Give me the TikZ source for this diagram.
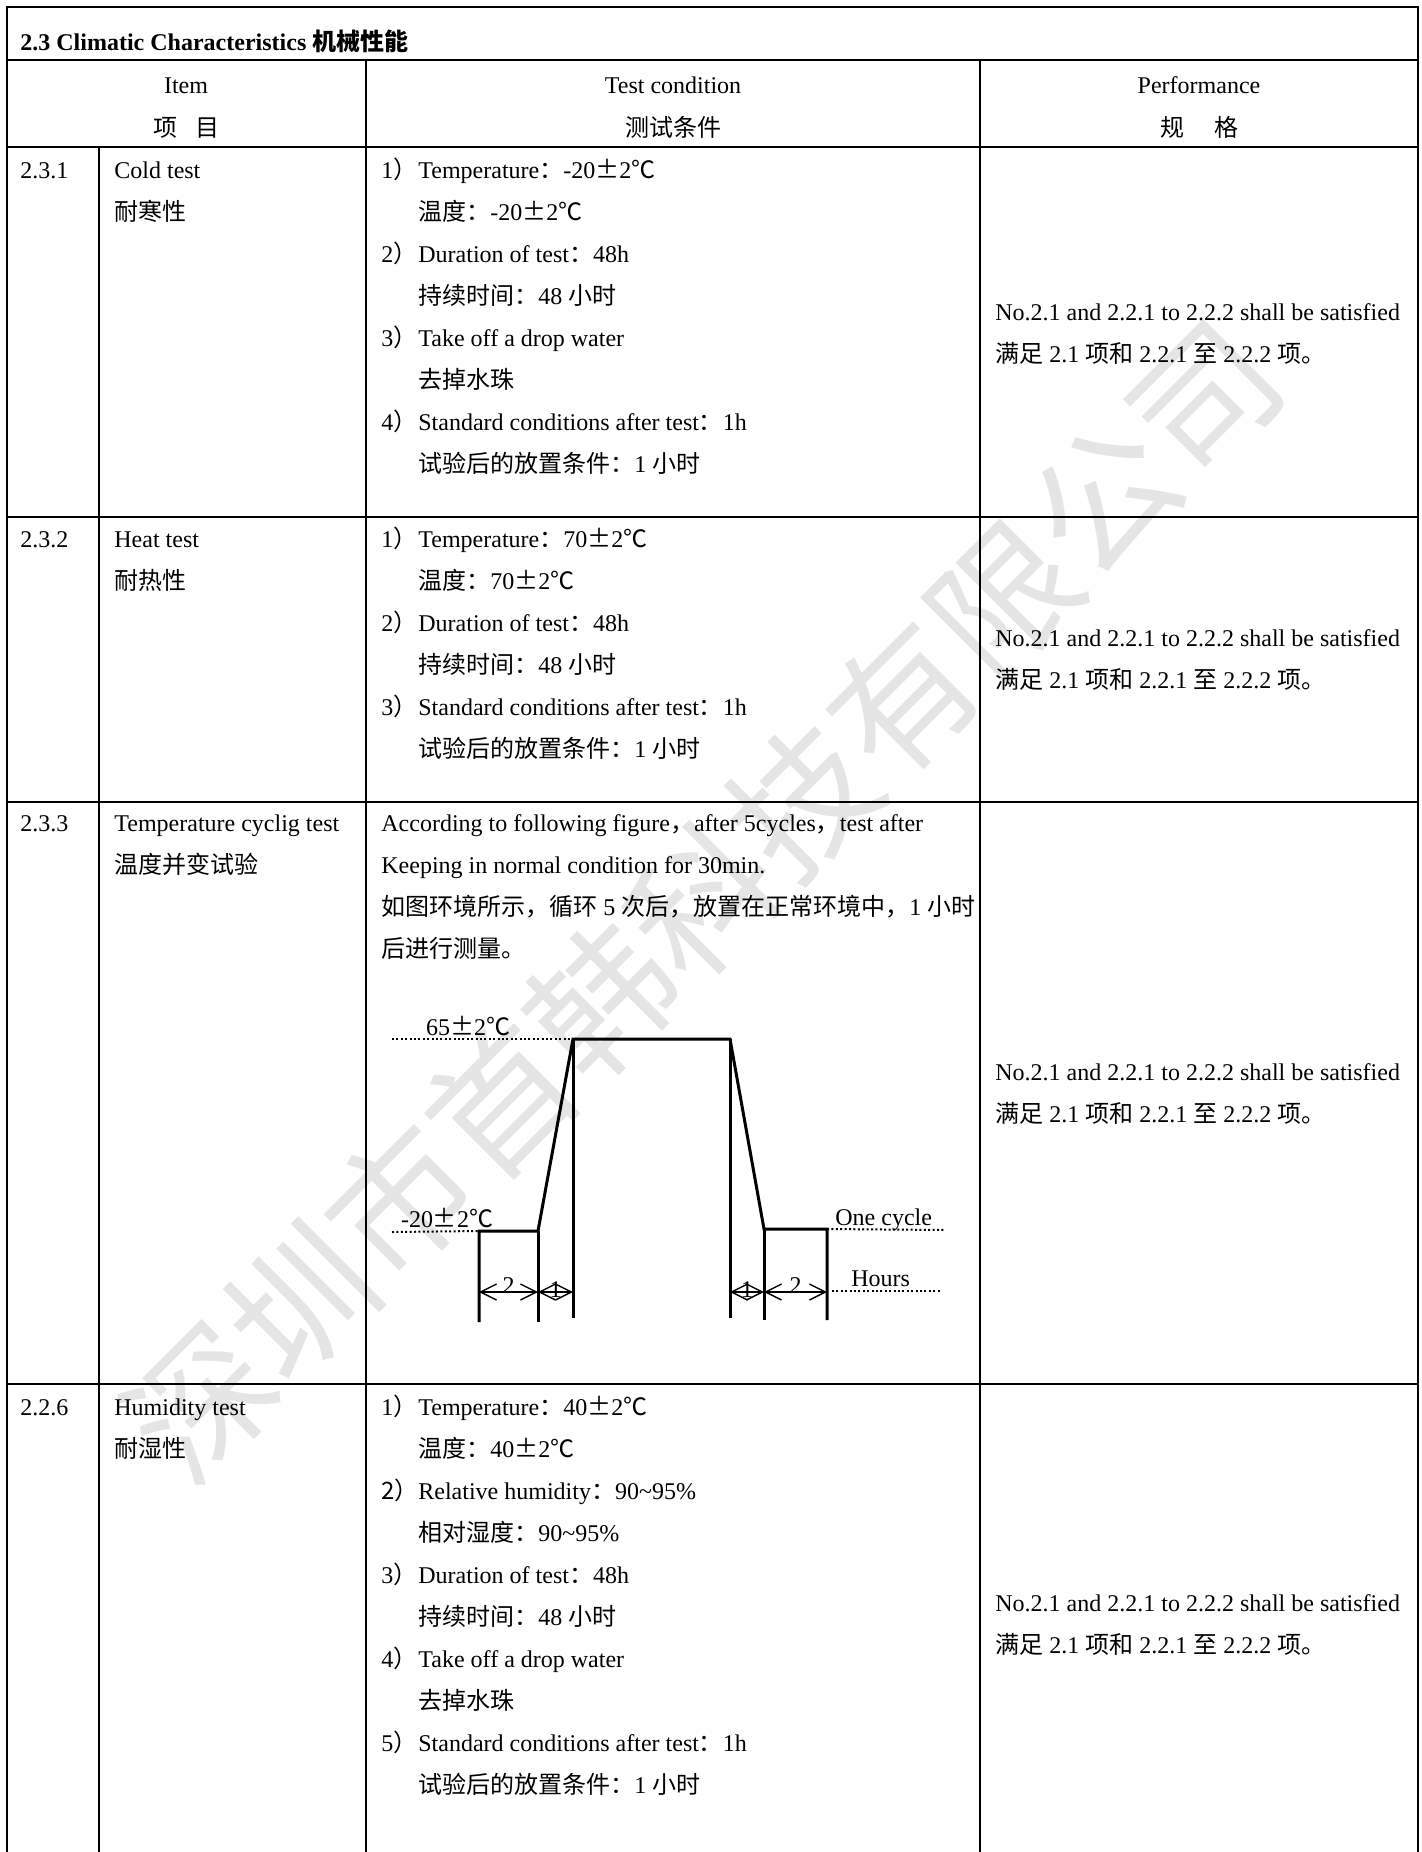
\documentclass[tikz,border=0pt]{standalone}
\usepackage{fontspec}
\setmainfont{Liberation Serif}
\newfontfamily\cjk{Noto Sans CJK SC}
\usetikzlibrary{arrows.meta}

\newcommand{\zh}[1]{{\cjk #1}}
\newcommand{\lnum}[1]{\makebox[18.5pt][l]{#1\zh{）}}}
\newcommand{\lpad}{\hspace*{18.5pt}}

\begin{document}
\begin{tikzpicture}[x=0.5pt, y=-0.5pt, font=\fontsize{12}{21}\selectfont]
	\tikzset{
		rule/.style={line width=0.7pt}, % table lines
		cell/.style={anchor=north west, inner sep=0pt, align=left, execute at begin node=\strut, yshift=14.7pt}, % placed at the first baseline
		head/.style={anchor=base, inner sep=0pt},
		curve/.style={line width=1.5pt}, % the temperature profile
		level/.style={line width=1pt, dash pattern=on 1pt off 1.2pt},
		span/.style={line width=0.7pt, {Straight Barb[length=8pt,width=8pt]}-{Straight Barb[length=8pt,width=8pt]}},
	}
	\useasboundingbox (0,0) rectangle (1421,1852);
	\fill[white] (0,0) rectangle (1421,1852);

	% watermark
	\node[text=black!10, rotate=45, font=\cjk\fontsize{71}{71}\selectfont] (mark) at (702,900) {深圳市首韩科技有限公司};

	% table grid
	\draw[rule] (7,1852) -- (7,7) -- (1418,7) -- (1418,1852);
	\draw[rule] (7,60) -- (1418,60);
	\draw[rule] (7,147) -- (1418,147);
	\draw[rule] (7,517) -- (1418,517);
	\draw[rule] (7,802) -- (1418,802);
	\draw[rule] (7,1384) -- (1418,1384);
	\draw[rule] (99,147) -- (99,1852);
	\draw[rule] (366,60) -- (366,1852);
	\draw[rule] (980,60) -- (980,1852);

	% title and header
	\node[cell, font=\fontsize{12}{21}\selectfont\bfseries] (title) at (20,50) {2.3 Climatic Characteristics \zh{机械性能}};
	\node[head] (item) at (186,93) {Item};
	\node[head] (itemzh) at (186,136) {\zh{项\hspace{9pt}目}};
	\node[head] (cond) at (673,93) {Test condition};
	\node[head] (condzh) at (673,136) {\zh{测试条件}};
	\node[head] (perf) at (1199,93) {Performance};
	\node[head] (perfzh) at (1199,136) {\zh{规\hspace{15pt}格}};

	% 2.3.1
	\node[cell] (no1) at (20,178) {2.3.1};
	\node[cell] (name1) at (114,178) {\strut Cold test\\\zh{耐寒性}};
	\node[cell] (cond1) at (381,178) {\strut\lnum{1}Temperature\zh{：}-20\zh{±}2\zh{℃}\\
		\lpad\zh{温度：}-20\zh{±}2\zh{℃}\\
		\lnum{2}Duration of test\zh{：}48h\\
		\lpad\zh{持续时间：}48 \zh{小时}\\
		\lnum{3}Take off a drop water\\
		\lpad\zh{去掉水珠}\\
		\lnum{4}Standard conditions after test\zh{：}1h\\
		\lpad\zh{试验后的放置条件：}1 \zh{小时}};
	\node[cell] (perf1) at (995,320) {\strut No.2.1 and 2.2.1 to 2.2.2 shall be satisfied\\
		\zh{满足} 2.1 \zh{项和} 2.2.1 \zh{至} 2.2.2 \zh{项。}};

	% 2.3.2
	\node[cell] (no2) at (20,547) {2.3.2};
	\node[cell] (name2) at (114,547) {\strut Heat test\\\zh{耐热性}};
	\node[cell] (cond2) at (381,547) {\strut\lnum{1}Temperature\zh{：}70\zh{±}2\zh{℃}\\
		\lpad\zh{温度：}70\zh{±}2\zh{℃}\\
		\lnum{2}Duration of test\zh{：}48h\\
		\lpad\zh{持续时间：}48 \zh{小时}\\
		\lnum{3}Standard conditions after test\zh{：}1h\\
		\lpad\zh{试验后的放置条件：}1 \zh{小时}};
	\node[cell] (perf2) at (995,646) {\strut No.2.1 and 2.2.1 to 2.2.2 shall be satisfied\\
		\zh{满足} 2.1 \zh{项和} 2.2.1 \zh{至} 2.2.2 \zh{项。}};

	% 2.3.3
	\node[cell] (no3) at (20,831) {2.3.3};
	\node[cell] (name3) at (114,831) {\strut Temperature cyclig test\\\zh{温度并变试验}};
	\node[cell] (cond3) at (381,831) {\strut According to following figure\zh{，}after 5cycles\zh{，}test after\\
		Keeping in normal condition for 30min.\\
		\zh{如图环境所示，循环} 5 \zh{次后，放置在正常环境中，}1 \zh{小时}\\
		\zh{后进行测量。}};
	\node[cell] (perf3) at (995,1080) {\strut No.2.1 and 2.2.1 to 2.2.2 shall be satisfied\\
		\zh{满足} 2.1 \zh{项和} 2.2.1 \zh{至} 2.2.2 \zh{项。}};

	% cycle figure
	\coordinate (lowA) at (479,1231);
	\coordinate (lowB) at (538,1231);
	\coordinate (topA) at (573,1039);
	\coordinate (topB) at (730,1039);
	\coordinate (lowC) at (764,1229);
	\coordinate (lowD) at (827,1229);
	\draw[curve] (479,1322) -- (lowA) -- (lowB) -- (topA) -- (topB) -- (lowC) -- (lowD) -- (827,1320);
	\draw[curve] (lowB) -- (538,1322);
	\draw[curve] (topA) -- (573,1318);
	\draw[curve] (topB) -- (730,1318);
	\draw[curve] (lowC) -- (764,1320);
	\draw[level] (392,1039) -- (topA);
	\draw[level] (392,1232) -- (lowA);
	\draw[level] (lowD) -- (945,1230);
	\draw[level] (832,1291) -- (941,1291);
	\node[head] (hot) at (468,1035) {65\zh{±}2\zh{℃}};
	\node[head] (cold) at (447,1227) {-20\zh{±}2\zh{℃}};
	\node[head, anchor=base west] (cycle) at (835,1225) {One cycle};
	\node[head, anchor=base west] (hours) at (851,1286) {Hours};
	\draw[span] (479,1292) -- node[head, above=-1pt] {2} (538,1292);
	\draw[span] (538,1292) -- node[head, above=-3pt] {1} (573,1292);
	\draw[span] (730,1292) -- node[head, above=-3pt] {1} (764,1292);
	\draw[span] (764,1292) -- node[head, above=-1pt] {2} (827,1292);

	% 2.2.6
	\node[cell] (no4) at (20,1415) {2.2.6};
	\node[cell] (name4) at (114,1415) {\strut Humidity test\\\zh{耐湿性}};
	\node[cell] (cond4) at (381,1415) {\strut\lnum{1}Temperature\zh{：}40\zh{±}2\zh{℃}\\
		\lpad\zh{温度：}40\zh{±}2\zh{℃}\\
		\lnum{\zh{2}}Relative humidity\zh{：}90\textasciitilde 95\%\\
		\lpad\zh{相对湿度：}90\textasciitilde 95\%\\
		\lnum{3}Duration of test\zh{：}48h\\
		\lpad\zh{持续时间：}48 \zh{小时}\\
		\lnum{4}Take off a drop water\\
		\lpad\zh{去掉水珠}\\
		\lnum{5}Standard conditions after test\zh{：}1h\\
		\lpad\zh{试验后的放置条件：}1 \zh{小时}};
	\node[cell] (perf4) at (995,1611) {\strut No.2.1 and 2.2.1 to 2.2.2 shall be satisfied\\
		\zh{满足} 2.1 \zh{项和} 2.2.1 \zh{至} 2.2.2 \zh{项。}};
\end{tikzpicture}
\end{document}
